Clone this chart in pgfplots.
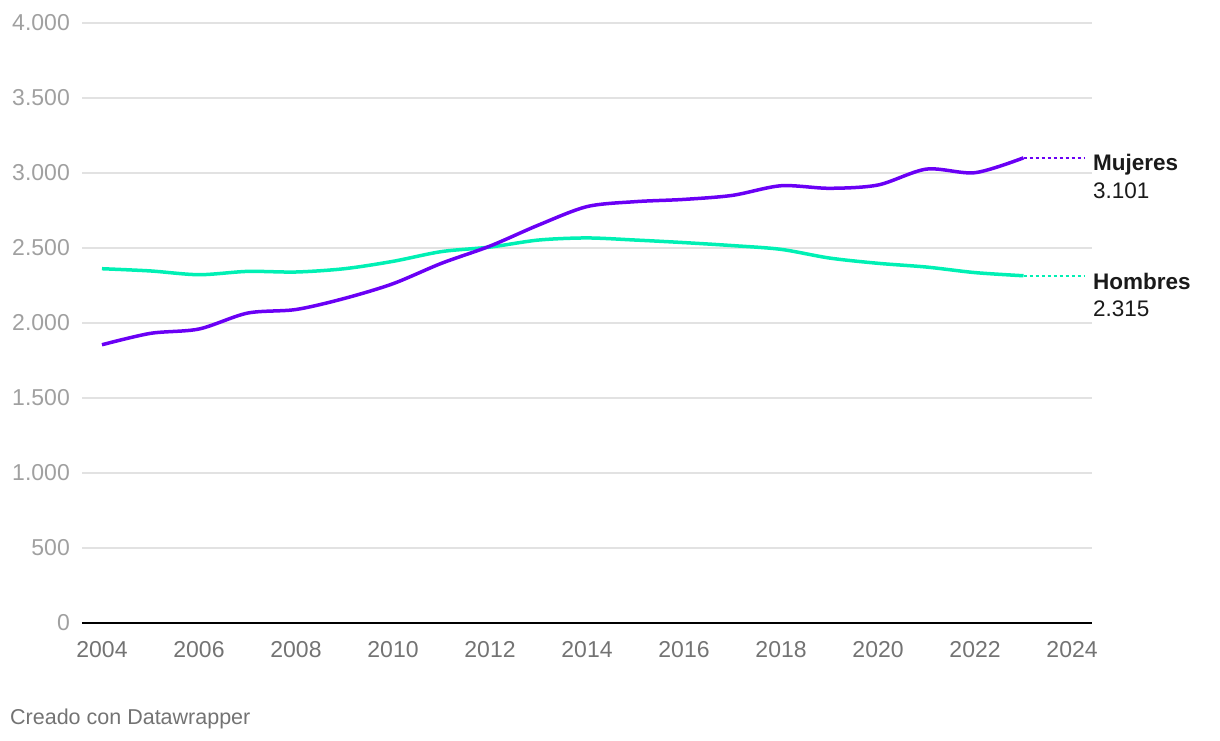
\documentclass[border=0pt]{standalone}
\usepackage{pgfplots}
\pgfplotsset{compat=1.18}
\usepackage{fontspec}
\setmainfont{Liberation Sans}
\definecolor{muj}{RGB}{106,0,245}
\definecolor{hom}{RGB}{0,240,180}
\definecolor{gridc}{RGB}{226,226,226}
\definecolor{ytc}{RGB}{160,160,160}
\definecolor{xtc}{RGB}{115,115,115}
\definecolor{lbl}{RGB}{26,26,26}
\begin{document}
\begin{tikzpicture}[x=1pt,y=1pt]
\path[use as bounding box] (-82,-117) rectangle (1138,623);
\begin{axis}[at={(0,0)}, anchor=south west, scale only axis,
  width=1010pt, height=600pt,
  xmin=2003.588, xmax=2024.412, ymin=0, ymax=4000,
  axis line style={draw=none}, major tick length=0pt,
  clip=false,
  ytick={0,500,...,4000},
  xtick={2004,2006,...,2024},
  xticklabels={2004,2006,2008,2010,2012,2014,2016,2018,2020,2022,2024},
  ymajorgrids, grid style={gridc, line width=1.4pt},
  /pgf/number format/assume math mode=true,
  yticklabel={\pgfmathprintnumber[1000 sep={.}]{\tick}},
  yticklabel style={font=\fontsize{23}{27}\selectfont, color=ytc, anchor=east, inner sep=0pt, xshift=-12pt},
  xticklabel style={font=\fontsize{23}{27}\selectfont, color=xtc, anchor=north, inner sep=0pt, yshift=-18pt},
]
\draw[black, line width=2pt] (axis cs:2003.588,0) -- (axis cs:2024.412,0);
\addplot[hom, line width=3.5pt, smooth, tension=0.5] coordinates {
(2004,2362)(2005,2347)(2006,2322)(2007,2344)(2008,2340)(2009,2362)(2010,2411)
(2011,2476)(2012,2506)(2013,2553)(2014,2567)(2015,2553)(2016,2536)(2017,2516)
(2018,2491)(2019,2433)(2020,2398)(2021,2373)(2022,2336)(2023,2315)};
\addplot[muj, line width=3.5pt, smooth, tension=0.5] coordinates {
(2004,1855)(2005,1931)(2006,1960)(2007,2066)(2008,2090)(2009,2164)(2010,2262)
(2011,2398)(2012,2513)(2013,2653)(2014,2776)(2015,2809)(2016,2824)(2017,2851)
(2018,2915)(2019,2898)(2020,2920)(2021,3026)(2022,3002)(2023,3101)};
\addplot[muj, line width=1.6pt, dash pattern=on 3pt off 3pt] coordinates {(2023,3101)(2024.27,3101)};
\addplot[hom, line width=1.6pt, dash pattern=on 3pt off 3pt] coordinates {(2023,2315)(2024.27,2315)};
\node[anchor=west, inner sep=0pt, font=\fontsize{22.5}{27}\selectfont\bfseries, text=lbl] at (axis cs:2024.43,3055) {Mujeres};
\node[anchor=west, inner sep=0pt, font=\fontsize{22.5}{27}\selectfont, text=lbl] at (axis cs:2024.43,2880) {3.101};
\node[anchor=west, inner sep=0pt, font=\fontsize{22.5}{27}\selectfont\bfseries, text=lbl] at (axis cs:2024.43,2280) {Hombres};
\node[anchor=west, inner sep=0pt, font=\fontsize{22.5}{27}\selectfont, text=lbl] at (axis cs:2024.43,2095) {2.315};
\end{axis}
\node[anchor=west, inner sep=0pt, font=\fontsize{21.5}{25}\selectfont, text=xtc] at (-72,-96) {Creado con Datawrapper};
\end{tikzpicture}
\end{document}
